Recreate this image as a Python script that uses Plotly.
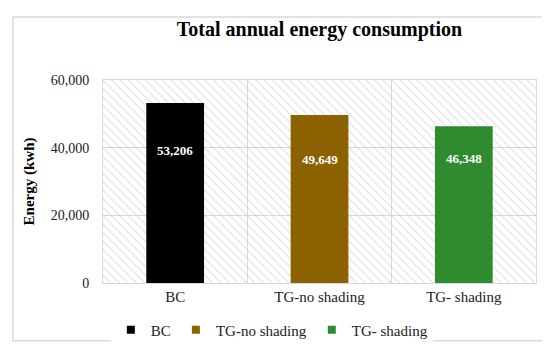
import plotly.graph_objects as go

categories = ["BC", "TG-no shading", "TG- shading"]
energy = [53206, 49649, 46348]
bar_colors = ["#000000", "#8C6100", "#2E8B2E"]
y_ticks = [0, 20000, 40000, 60000]
y_max = 60000
label_y = [39300, 36500, 36700]

FONT = "Liberation Serif, Times New Roman, serif"

fig = go.Figure()

# hatched background of plot area
fig.add_trace(go.Bar(
    x=categories, y=[y_max] * len(categories), width=1,
    marker=dict(color="rgba(0,0,0,0)", line=dict(width=0),
                pattern=dict(shape="\\", fgcolor="#C4C4C4", bgcolor="rgba(0,0,0,0)",
                             size=6, solidity=0.2)),
    showlegend=False, hoverinfo="skip"))

for c, v, col in zip(categories, energy, bar_colors):
    fig.add_trace(go.Bar(x=[c], y=[v], name=c, width=0.4, showlegend=False,
                         marker=dict(color=col, line=dict(width=0))))

# legend entries with small square markers
for c, col in zip(categories, bar_colors):
    fig.add_trace(go.Scatter(x=[None], y=[None], mode="markers", name=c,
                             marker=dict(symbol="square", size=8, color=col)))

for c, v, ly in zip(categories, energy, label_y):
    fig.add_annotation(x=c, y=ly, text=f"<b>{v:,}</b>", showarrow=False,
                       font=dict(family=FONT, size=13, color="white"))

fig.add_shape(type="rect", xref="paper", yref="paper",
              x0=-0.208, x1=1.028, y0=-0.284, y1=1.31,
              line=dict(color="#D9D9D9", width=1.5), layer="below")

fig.update_layout(
    width=550, height=351,
    margin=dict(l=95, r=22, t=72, b=68),
    paper_bgcolor="white", plot_bgcolor="white",
    barmode="overlay",
    font=dict(family=FONT, size=14, color="#222222"),
    title=dict(text="<b>Total annual energy consumption</b>",
               x=0.5, xref="paper", y=0.94, yanchor="middle",
               font=dict(family=FONT, size=20, color="black")),
    legend=dict(orientation="h", x=0.39, xanchor="center", y=-0.15, yanchor="top",
                font=dict(family=FONT, size=15, color="#222222"),
                itemwidth=30, tracegroupgap=0),
    xaxis=dict(range=[-0.5, 2.5], tickson="boundaries", showgrid=True,
               gridcolor="#D9D9D9", gridwidth=1, ticks="",
               showline=True, linecolor="#D9D9D9", mirror=True,
               tickfont=dict(family=FONT, size=15, color="#222222")),
    yaxis=dict(range=[0, y_max], tickvals=y_ticks, tickformat=",",
               showgrid=True, gridcolor="#D9D9D9", gridwidth=1,
               showline=True, linecolor="#D9D9D9", mirror=True,
               zeroline=False, ticks="", ticklabelstandoff=10,
               tickfont=dict(family=FONT, size=14, color="#222222"),
               title=dict(text="<b>Energy (kwh)</b>", standoff=12,
                          font=dict(family=FONT, size=15, color="black"))),
)

fig.write_html("out.html")
